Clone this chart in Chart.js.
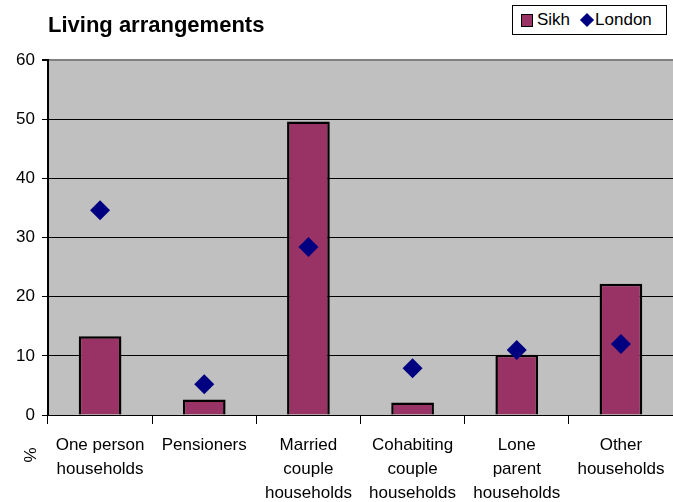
<!DOCTYPE html>
<html>
<head>
<meta charset="utf-8">
<script src="https://cdn.jsdelivr.net/npm/chart.js@4"></script>
<style>
  html, body { margin: 0; padding: 0; background: #fff; overflow: hidden; }
  #wrap { position: relative; width: 673px; height: 502px; overflow: hidden; font-family: "Liberation Sans", Arial, sans-serif; }
  #title { position: absolute; left: 48px; top: 12px; font-size: 22px; font-weight: bold; color: #000; }
  #legend { position: absolute; left: 512px; top: 5px; width: 153px; height: 28px; border: 1px solid #000; background: #fff;
            font-size: 17px; color: #000; display: flex; align-items: center; }
  .sw { display: inline-block; width: 10px; height: 11px; background: #993366; border: 1px solid #000; margin: 0 4px 0 8px; }
  .dm { display: inline-block; width: 10px; height: 10px; background: #000080; transform: rotate(45deg); margin: 0 3px 0 12px; }
</style>
</head>
<body>
<div id="wrap">
  <canvas id="chart" width="673" height="502"></canvas>
  <div id="title">Living arrangements</div>
  <div id="legend"><span class="sw"></span>Sikh<span class="dm"></span>London</div>
</div>
<script>
// Categories and values (percent)
const categories = [
  ['One person', 'households'],
  ['Pensioners'],
  ['Married', 'couple', 'households'],
  ['Cohabiting', 'couple', 'households'],
  ['Lone', 'parent', 'households'],
  ['Other', 'households']
];
const sikhValues = [13.3, 2.6, 49.6, 2.1, 10.2, 22.2];
const londonValues = [34.6, 5.2, 28.4, 7.9, 11.0, 12.0];
const yTicks = [0, 10, 20, 30, 40, 50, 60];

const FONT = '"Liberation Sans", Arial, sans-serif';

// Grey plot area and the "%" axis label
const plotBackground = {
  id: 'plotBackground',
  beforeDraw(chart) {
    const { ctx, chartArea } = chart;
    ctx.save();
    ctx.fillStyle = '#c0c0c0';
    ctx.fillRect(chartArea.left, chartArea.top, chartArea.right - chartArea.left, chartArea.bottom - chartArea.top);
    ctx.restore();
  },
  afterDraw(chart) {
    const { ctx } = chart;
    ctx.save();
    ctx.translate(31, 455);
    ctx.rotate(-Math.PI / 2);
    ctx.font = '17px ' + FONT;
    ctx.fillStyle = '#000';
    ctx.textAlign = 'center';
    ctx.textBaseline = 'middle';
    ctx.fillText('%', 0, 0);
    ctx.restore();
  }
};

new Chart(document.getElementById('chart'), {
  data: {
    labels: categories,
    datasets: [
      {
        type: 'scatter',
        label: 'London',
        data: londonValues.map((v, i) => ({ x: i, y: v })),
        backgroundColor: '#000080',
        borderColor: '#000080',
        pointStyle: 'rectRot',
        pointRadius: 10,
        pointBorderWidth: 0,
        showLine: false,
        xAxisID: 'x'
      },
      {
        type: 'bar',
        label: 'Sikh',
        data: sikhValues,
        backgroundColor: '#993366',
        borderColor: '#000',
        borderWidth: 2.5,
        borderSkipped: 'bottom',
        categoryPercentage: 1,
        barPercentage: 0.41,
        order: 2
      }
    ]
  },
  options: {
    responsive: false,
    animation: false,
    layout: { autoPadding: false, padding: { top: 60, right: -3, left: 0, bottom: 0 } },
    plugins: {
      legend: { display: false },
      tooltip: { enabled: false },
      title: { display: false }
    },
    scales: {
      x: {
        type: 'category',
        offset: true,
        afterFit(scale) {
          scale.height = 87;
          scale.paddingLeft = 0;
          scale.paddingRight = 0;
        },
        grid: { offset: true, drawOnChartArea: false, color: '#000', tickLength: 9, tickColor: '#000' },
        border: { color: '#000', width: 1 },
        ticks: {
          color: '#000',
          padding: 9,
          maxRotation: 0,
          autoSkip: false,
          font: { family: FONT, size: 17, lineHeight: 24 / 17 }
        }
      },
      y: {
        min: 0,
        max: 60,
        afterFit(scale) {
          scale.width = 48;
          scale.paddingTop = 0;
          scale.paddingBottom = 0;
        },
        afterBuildTicks(scale) { scale.ticks = yTicks.map(v => ({ value: v })); },
        grid: {
          color: ctx => (ctx.tick && ctx.tick.value === 60 ? '#808080' : '#000'),
          lineWidth: ctx => (ctx.tick && ctx.tick.value === 60 ? 2 : 1),
          tickLength: 6,
          tickColor: '#000'
        },
        border: { color: '#000', width: 2 },
        ticks: {
          color: '#000',
          padding: 7,
          font: { family: FONT, size: 17 }
        }
      }
    }
  },
  plugins: [plotBackground]
});
</script>
</body>
</html>
